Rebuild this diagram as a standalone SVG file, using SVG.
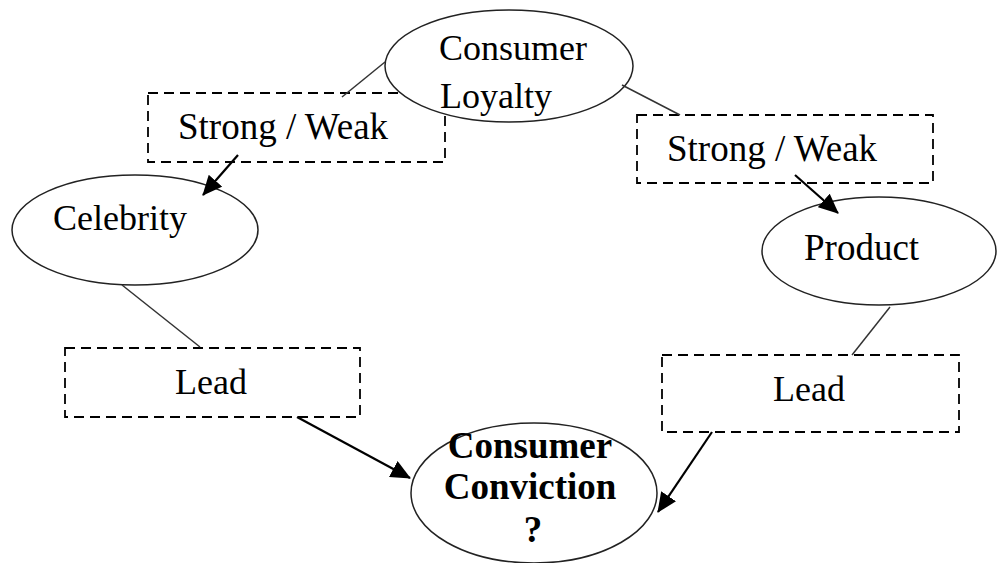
<svg xmlns="http://www.w3.org/2000/svg" width="998" height="563" viewBox="0 0 998 563">
<style>
.ell{fill:#fff;stroke:#222;stroke-width:1.5}
.box{fill:none;stroke:#000;stroke-width:1.8;stroke-dasharray:10 6}
.ln{stroke:#333;stroke-width:1.5;fill:none}
.ar{stroke:#000;stroke-width:2.2;fill:none;marker-end:url(#ah)}
</style>
<defs>
<marker id="ah" markerWidth="20" markerHeight="18" refX="19" refY="9" orient="auto" markerUnits="userSpaceOnUse" viewBox="0 0 20 18">
<path d="M0,0 L20,9 L0,18 z" fill="#000"/>
</marker>
</defs>
<rect width="998" height="563" fill="#fff"/>
<g id="sw-left">
<rect class="box" x="148" y="93" width="297" height="69"/>
<text x="178" y="139" style="font-family:'Liberation Serif',serif;font-size:37px">Strong / Weak</text>
</g>
<g id="sw-right">
<rect class="box" x="637" y="115" width="296" height="68"/>
<text x="667" y="161" style="font-family:'Liberation Serif',serif;font-size:37px">Strong / Weak</text>
</g>
<g id="loyalty">
<ellipse class="ell" cx="509" cy="66" rx="124" ry="56"/>
<text x="439" y="60" style="font-family:'Liberation Serif',serif;font-size:36px">Consumer</text>
<text x="440" y="108" style="font-family:'Liberation Serif',serif;font-size:36px">Loyalty</text>
</g>
<g id="celebrity">
<ellipse class="ell" cx="135" cy="230" rx="123" ry="55"/>
<text x="53" y="230" style="font-family:'Liberation Serif',serif;font-size:36px">Celebrity</text>
</g>
<g id="product">
<ellipse class="ell" cx="879" cy="251" rx="117" ry="54"/>
<text x="804" y="260" style="font-family:'Liberation Serif',serif;font-size:37px">Product</text>
</g>
<g id="lead-left">
<rect class="box" x="65" y="348" width="295" height="69"/>
<text x="175" y="394" style="font-family:'Liberation Serif',serif;font-size:36px">Lead</text>
</g>
<g id="lead-right">
<rect class="box" x="662" y="355" width="297" height="77"/>
<text x="773" y="401" style="font-family:'Liberation Serif',serif;font-size:36px">Lead</text>
</g>
<g id="conviction">
<ellipse class="ell" cx="534" cy="493" rx="123" ry="70"/>
<text x="530" y="458" text-anchor="middle" style="font-family:'Liberation Serif',serif;font-size:37px;font-weight:bold">Consumer</text>
<text x="530" y="499" text-anchor="middle" style="font-family:'Liberation Serif',serif;font-size:37px;font-weight:bold">Conviction</text>
<text x="533" y="542" text-anchor="middle" style="font-family:'Liberation Serif',serif;font-size:37px;font-weight:bold">?</text>
</g>
<g id="connectors">
<line class="ln" x1="385" y1="62" x2="342" y2="97"/>
<line class="ln" x1="622" y1="85" x2="680" y2="115"/>
<line class="ar" x1="238" y1="155" x2="203" y2="195"/>
<line class="ar" x1="795" y1="175" x2="838" y2="213"/>
<line class="ln" x1="122" y1="285" x2="200" y2="347"/>
<line class="ln" x1="890" y1="307" x2="852" y2="355"/>
<line class="ar" x1="297" y1="417" x2="410" y2="478"/>
<line class="ar" x1="712" y1="432" x2="658" y2="512"/>
</g>
</svg>
